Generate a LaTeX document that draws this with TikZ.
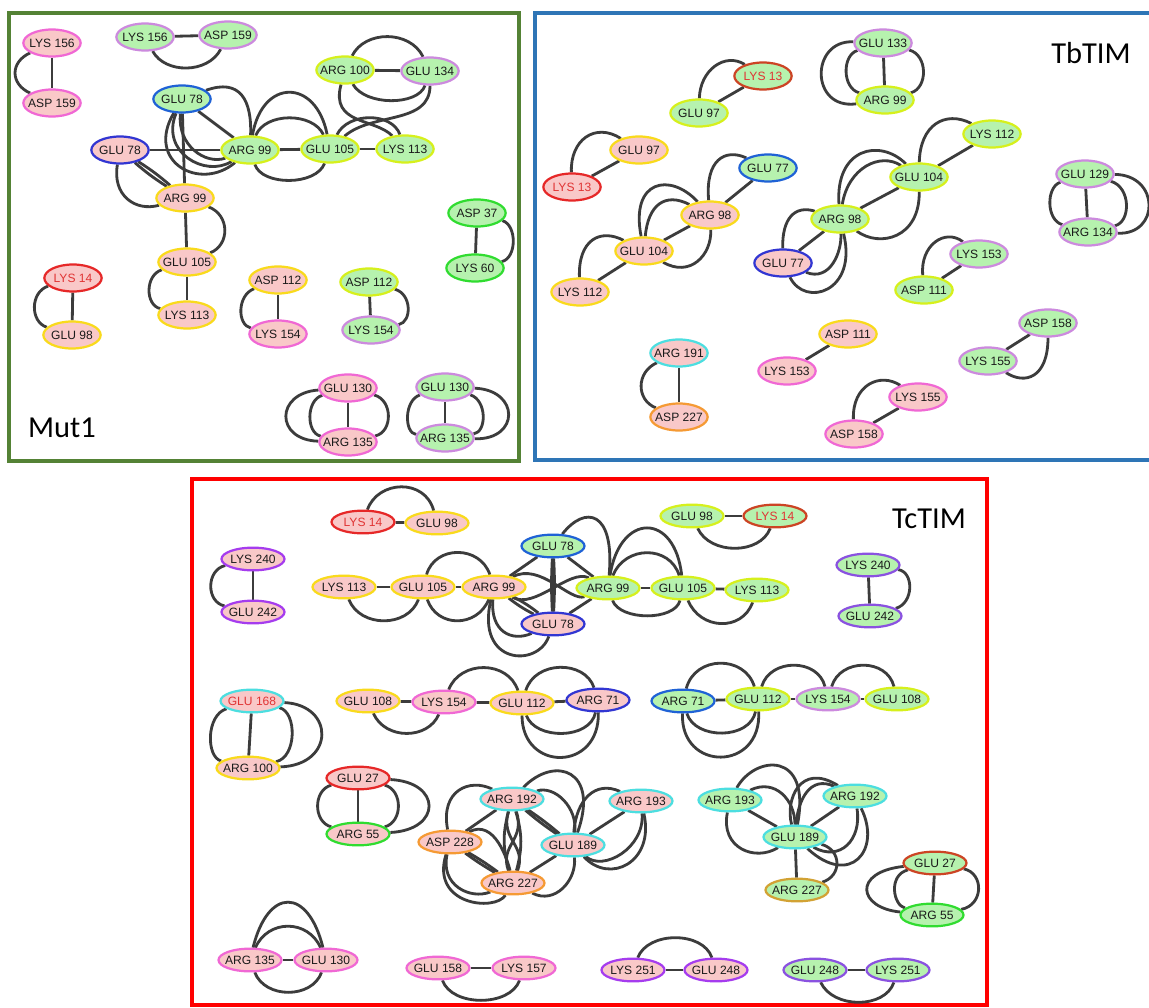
\documentclass[tikz,border=0pt]{standalone}
\usepackage{fontspec}
\setmainfont{Liberation Sans}
\newfontfamily\panelfont{Carlito}
\usetikzlibrary{shapes.geometric,backgrounds}

\definecolor{pinkfill}{HTML}{F9C8C8}
\definecolor{greenfill}{HTML}{B6F2AE}
\definecolor{ink}{HTML}{1A1A1A}
\definecolor{redtext}{HTML}{E03434}
\definecolor{bondc}{HTML}{3C3C3C}
\definecolor{cMag}{HTML}{F068D4}
\definecolor{cVio}{HTML}{CC8ADE}
\definecolor{cYel}{HTML}{F9DA1C}
\definecolor{cYG}{HTML}{D6F01C}
\definecolor{cBlue}{HTML}{1F62D6}
\definecolor{cInd}{HTML}{3236D2}
\definecolor{cRed}{HTML}{E62828}
\definecolor{cRB}{HTML}{CC4424}
\definecolor{cGrn}{HTML}{30DC30}
\definecolor{cCyan}{HTML}{4CDEE0}
\definecolor{cOrg}{HTML}{F59A34}
\definecolor{cOch}{HTML}{D2A234}
\definecolor{cPur}{HTML}{A53CEE}
\definecolor{cPur2}{HTML}{8A52E0}
\definecolor{mutframe}{HTML}{548235}
\definecolor{tbframe}{HTML}{2E75B6}
\definecolor{tcframe}{HTML}{FF0000}

\newcommand\resid[1]{\makebox[0pt]{#1}}

\tikzset{
  res/.style={ellipse, inner sep=0pt, line width=1.9pt, text=ink,
    font=\fontsize{10.3}{12}\selectfont},
  resA/.style={res, minimum width=1.72cm, minimum height=0.81cm},
  resB/.style={res, minimum width=1.89cm, minimum height=0.68cm},
  pk/.style={fill=pinkfill}, gr/.style={fill=greenfill},
  bmag/.style={draw=cMag}, bvio/.style={draw=cVio}, byel/.style={draw=cYel},
  byg/.style={draw=cYG}, bblue/.style={draw=cBlue}, bind/.style={draw=cInd},
  bred/.style={draw=cRed}, brb/.style={draw=cRB}, bgrn/.style={draw=cGrn},
  bcyan/.style={draw=cCyan}, borg/.style={draw=cOrg}, boch/.style={draw=cOch},
  bpur/.style={draw=cPur}, bpur2/.style={draw=cPur2},
  rt/.style={text=redtext},
  bond/.style={draw=bondc, line width=2.4pt},
  panel/.style={line width=2.6pt},
  paneltitle/.style={font=\panelfont\fontsize{26}{30}\selectfont, text=black}
}

\begin{document}
\begin{tikzpicture}[x=0.03cm,y=-0.03cm]
\useasboundingbox (0,0) rectangle (1149,1007);
\begin{pgfonlayer}{background}
  \fill[white] (0,0) rectangle (1149,1007);
  \draw[panel, draw=mutframe] (9,13) rectangle (519,461);
  \draw[panel, draw=tbframe] (535,13) rectangle (1156,460);
  \draw[panel, draw=tcframe] (192,479) rectangle (987,1005);
\end{pgfonlayer}

% ---------------- Mut1 ----------------
\node[paneltitle] (tmut) at (62,428) {Mut1};
\node[resA,pk,bmag] (m1) at (52,43) {\resid{LYS 156}};
\node[resA,pk,bmag] (m2) at (52,103) {\resid{ASP 159}};
\node[resA,gr,bvio] (m3) at (145,37) {\resid{LYS 156}};
\node[resA,gr,bvio] (m4) at (228,35) {\resid{ASP 159}};
\node[resA,gr,bblue] (m5) at (182,99) {\resid{GLU 78}};
\node[resA,pk,bind] (m6) at (120,150) {\resid{GLU 78}};
\node[resA,gr,byg] (m7) at (250,150) {\resid{ARG 99}};
\node[resA,pk,byel] (m8) at (185,198) {\resid{ARG 99}};
\node[resA,gr,byg] (m9) at (330,149) {\resid{GLU 105}};
\node[resA,gr,byg] (m10) at (405,149) {\resid{LYS 113}};
\node[resA,gr,byg] (m11) at (345,70) {\resid{ARG 100}};
\node[resA,gr,bvio] (m12) at (430,71) {\resid{GLU 134}};
\node[resA,gr,bgrn] (m13) at (477,213) {\resid{ASP 37}};
\node[resA,gr,bgrn] (m14) at (475,268) {\resid{LYS 60}};
\node[resA,pk,bred,rt] (m15) at (73,278) {\resid{LYS 14}};
\node[resA,pk,byel] (m16) at (72,335) {\resid{GLU 98}};
\node[resA,pk,byel] (m17) at (187,262) {\resid{GLU 105}};
\node[resA,pk,byel] (m18) at (187,315) {\resid{LYS 113}};
\node[resA,pk,byel] (m19) at (278,280) {\resid{ASP 112}};
\node[resA,pk,bmag] (m20) at (278,334) {\resid{LYS 154}};
\node[resA,gr,byg] (m21) at (369,282) {\resid{ASP 112}};
\node[resA,gr,bvio] (m22) at (371,330) {\resid{LYS 154}};
\node[resA,pk,bmag] (m23) at (348,388) {\resid{GLU 130}};
\node[resA,pk,bmag] (m24) at (348,442) {\resid{ARG 135}};
\node[resA,gr,bvio] (m25) at (445,387) {\resid{GLU 130}};
\node[resA,gr,bvio] (m26) at (445,438) {\resid{ARG 135}};

% ---------------- TbTIM ----------------
\node[paneltitle] (ttb) at (1091,53) {TbTIM};
\node[resA,gr,brb,rt] (t1) at (763,76) {\resid{LYS 13}};
\node[resA,gr,byg] (t2) at (699,113) {\resid{GLU 97}};
\node[resA,pk,byel] (t3) at (639,150) {\resid{GLU 97}};
\node[resA,pk,bred,rt] (t4) at (572,187) {\resid{LYS 13}};
\node[resA,gr,bblue] (t5) at (768,168) {\resid{GLU 77}};
\node[resA,pk,byel] (t6) at (710,215) {\resid{ARG 98}};
\node[resA,pk,byel] (t7) at (644,251) {\resid{GLU 104}};
\node[resA,pk,byel] (t8) at (580,292) {\resid{LYS 112}};
\node[resA,pk,bind] (t9) at (783,263) {\resid{GLU 77}};
\node[resA,gr,byg] (t10) at (840,219) {\resid{ARG 98}};
\node[resA,gr,byg] (t11) at (919,177) {\resid{GLU 104}};
\node[resA,gr,byg] (t12) at (992,134) {\resid{LYS 112}};
\node[resA,gr,bvio] (t13) at (883,43) {\resid{GLU 133}};
\node[resA,gr,byg] (t14) at (885,100) {\resid{ARG 99}};
\node[resA,gr,bvio] (t15) at (1085,174) {\resid{GLU 129}};
\node[resA,gr,bvio] (t16) at (1088,232) {\resid{ARG 134}};
\node[resA,gr,bvio] (t17) at (979,254) {\resid{LYS 153}};
\node[resA,gr,byg] (t18) at (924,290) {\resid{ASP 111}};
\node[resA,gr,bvio] (t19) at (1048,323) {\resid{ASP 158}};
\node[resA,gr,bvio] (t20) at (988,361) {\resid{LYS 155}};
\node[resA,pk,bcyan] (t21) at (679,353) {\resid{ARG 191}};
\node[resA,pk,borg] (t22) at (679,417) {\resid{ASP 227}};
\node[resA,pk,byel] (t23) at (848,334) {\resid{ASP 111}};
\node[resA,pk,bmag] (t24) at (787,371) {\resid{LYS 153}};
\node[resA,pk,bmag] (t25) at (918,397) {\resid{LYS 155}};
\node[resA,pk,bmag] (t26) at (854,434) {\resid{ASP 158}};

% ---------------- TcTIM ----------------
\node[paneltitle] (ttc) at (929,519) {TcTIM};
\node[resB,pk,bred,rt] (c1) at (363,522) {\resid{LYS 14}};
\node[resB,pk,byel] (c2) at (437,523) {\resid{GLU 98}};
\node[resB,pk,bpur] (c3) at (253,559) {\resid{LYS 240}};
\node[resB,pk,bpur] (c4) at (253,612) {\resid{GLU 242}};
\node[resB,pk,byel] (c5) at (344,587) {\resid{LYS 113}};
\node[resB,pk,byel] (c6) at (423,587) {\resid{GLU 105}};
\node[resB,pk,byel] (c7) at (494,587) {\resid{ARG 99}};
\node[resB,gr,bblue] (c8) at (553,546) {\resid{GLU 78}};
\node[resB,pk,bind] (c9) at (553,624) {\resid{GLU 78}};
\node[resB,gr,byg] (c10) at (608,588) {\resid{ARG 99}};
\node[resB,gr,byg] (c11) at (683,588) {\resid{GLU 105}};
\node[resB,gr,byg] (c12) at (757,590) {\resid{LYS 113}};
\node[resB,gr,byg] (c13) at (692,516) {\resid{GLU 98}};
\node[resB,gr,brb,rt] (c14) at (775,516) {\resid{LYS 14}};
\node[resB,gr,bpur2] (c15) at (868,565) {\resid{LYS 240}};
\node[resB,gr,bpur2] (c16) at (870,616) {\resid{GLU 242}};
\node[resB,pk,bcyan,rt] (c17) at (252,701) {\resid{GLU 168}};
\node[resB,pk,byel] (c18) at (248,768) {\resid{ARG 100}};
\node[resB,pk,byel] (c19) at (368,701) {\resid{GLU 108}};
\node[resB,pk,bmag] (c20) at (444,702) {\resid{LYS 154}};
\node[resB,pk,byel] (c21) at (522,703) {\resid{GLU 112}};
\node[resB,pk,bind] (c22) at (598,700) {\resid{ARG 71}};
\node[resB,gr,bblue] (c23) at (683,701) {\resid{ARG 71}};
\node[resB,gr,byg] (c24) at (758,699) {\resid{GLU 112}};
\node[resB,gr,bvio] (c25) at (828,699) {\resid{LYS 154}};
\node[resB,gr,byg] (c26) at (897,699) {\resid{GLU 108}};
\node[resB,pk,bred] (c27) at (358,778) {\resid{GLU 27}};
\node[resB,pk,bgrn] (c28) at (358,834) {\resid{ARG 55}};
\node[resB,pk,bcyan] (c29) at (512,799) {\resid{ARG 192}};
\node[resB,pk,borg] (c30) at (450,842) {\resid{ASP 228}};
\node[resB,pk,bcyan] (c31) at (573,845) {\resid{GLU 189}};
\node[resB,pk,borg] (c32) at (513,883) {\resid{ARG 227}};
\node[resB,pk,bcyan] (c33) at (641,801) {\resid{ARG 193}};
\node[resB,gr,bcyan] (c34) at (730,800) {\resid{ARG 193}};
\node[resB,gr,bcyan] (c35) at (855,796) {\resid{ARG 192}};
\node[resB,gr,bcyan] (c36) at (795,837) {\resid{GLU 189}};
\node[resB,gr,boch] (c37) at (797,890) {\resid{ARG 227}};
\node[resB,gr,brb] (c38) at (935,863) {\resid{GLU 27}};
\node[resB,gr,bgrn] (c39) at (932,915) {\resid{ARG 55}};
\node[resB,pk,bmag] (c40) at (250,960) {\resid{ARG 135}};
\node[resB,pk,bmag] (c41) at (326,960) {\resid{GLU 130}};
\node[resB,pk,bmag] (c42) at (438,968) {\resid{GLU 158}};
\node[resB,pk,bmag] (c43) at (524,968) {\resid{LYS 157}};
\node[resB,pk,bpur] (c44) at (633,970) {\resid{LYS 251}};
\node[resB,pk,bpur] (c45) at (716,970) {\resid{GLU 248}};
\node[resB,gr,bpur2] (c46) at (815,970) {\resid{GLU 248}};
\node[resB,gr,bpur2] (c47) at (898,970) {\resid{LYS 251}};

\begin{pgfonlayer}{background}
% Mut1 bonds
\draw[bond] (m1) -- (m2);
\draw[bond] (m1) .. controls (10,62) and (10,84) .. (m2);
\draw[bond] (m3) -- (m4);
\draw[bond] (m3) .. controls (165,74) and (208,74) .. (m4);
\draw[bond] (m11) -- (m12);
\draw[bond] (m11) .. controls (365,30) and (410,30) .. (m12);
\draw[bond] (m11) .. controls (365,106) and (418,106) .. (m12);
\draw[bond] (m11) .. controls (330,125) and (375,118) .. (m10);
\draw[bond] (m12) .. controls (430,125) and (372,112) .. (m9);
\draw[bond] (m9) -- (m10);
\draw[bond] (m9) .. controls (348,112) and (392,112) .. (m10);
\draw[bond] (m7) -- (m9);
\draw[bond] (m7) .. controls (262,78) and (316,78) .. (m9);
\draw[bond] (m7) .. controls (265,112) and (313,112) .. (m9);
\draw[bond] (m7) .. controls (262,186) and (316,186) .. (m9);
\draw[bond] (m5) -- (m7);
\draw[bond] (m6) -- (m7);
\draw[bond] (m5) -- (m8);
\draw[bond] (m5) .. controls (240,78) and (252,100) .. (m7);
\draw[bond] (m5) .. controls (145,162) and (200,192) .. (m7);
\draw[bond] (m5) .. controls (160,152) and (205,178) .. (m7);
\draw[bond] (m5) .. controls (177,145) and (205,165) .. (m7);
\draw[bond] (m6) to[bend left=4] (m8);
\draw[bond] (m6) to[bend right=4] (m8);
\draw[bond] (m6) .. controls (112,195) and (135,212) .. (m8);
\draw[bond] (m8) -- (m17);
\draw[bond] (m8) .. controls (230,215) and (230,245) .. (m17);
\draw[bond] (m17) -- (m18);
\draw[bond] (m17) .. controls (145,275) and (145,305) .. (m18);
\draw[bond] (m15) -- (m16);
\draw[bond] (m15) .. controls (30,292) and (30,322) .. (m16);
\draw[bond] (m19) -- (m20);
\draw[bond] (m19) .. controls (237,295) and (237,325) .. (m20);
\draw[bond] (m21) -- (m22);
\draw[bond] (m21) .. controls (412,294) and (412,322) .. (m22);
\draw[bond] (m13) -- (m14);
\draw[bond] (m13) .. controls (517,225) and (517,258) .. (m14);
\draw[bond] (m23) -- (m24);
\draw[bond] (m23) .. controls (275,393) and (275,440) .. (m24);
\draw[bond] (m23) .. controls (306,400) and (306,433) .. (m24);
\draw[bond] (m23) .. controls (393,400) and (393,432) .. (m24);
\draw[bond] (m25) -- (m26);
\draw[bond] (m25) .. controls (404,400) and (404,433) .. (m26);
\draw[bond] (m25) .. controls (487,400) and (487,432) .. (m26);
\draw[bond] (m25) .. controls (520,390) and (520,440) .. (m26);

% TbTIM bonds
\draw[bond] (t1) -- (t2);
\draw[bond] (t2) .. controls (700,70) and (725,52) .. (t1);
\draw[bond] (t3) -- (t4);
\draw[bond] (t4) .. controls (570,140) and (595,122) .. (t3);
\draw[bond] (t6) -- (t5);
\draw[bond] (t6) .. controls (705,160) and (725,148) .. (t5);
\draw[bond] (t7) -- (t8);
\draw[bond] (t8) .. controls (578,240) and (600,228) .. (t7);
\draw[bond] (t7) -- (t6);
\draw[bond] (t7) .. controls (630,180) and (670,172) .. (t6);
\draw[bond] (t7) .. controls (648,205) and (665,192) .. (t6);
\draw[bond] (t7) .. controls (690,278) and (712,255) .. (t6);
\draw[bond] (t9) -- (t10);
\draw[bond] (t9) .. controls (782,218) and (795,205) .. (t10);
\draw[bond] (t9) .. controls (830,282) and (842,252) .. (t10);
\draw[bond] (t9) .. controls (805,308) and (858,292) .. (t10);
\draw[bond] (t10) -- (t11);
\draw[bond] (t10) .. controls (835,148) and (880,138) .. (t11);
\draw[bond] (t10) .. controls (848,168) and (880,152) .. (t11);
\draw[bond] (t11) .. controls (920,238) and (880,248) .. (t10);
\draw[bond] (t11) -- (t12);
\draw[bond] (t11) .. controls (920,125) and (945,110) .. (t12);
\draw[bond] (t13) -- (t14);
\draw[bond] (t13) .. controls (842,55) and (842,88) .. (t14);
\draw[bond] (t13) .. controls (928,55) and (928,88) .. (t14);
\draw[bond] (t13) .. controls (810,40) and (810,110) .. (t14);
\draw[bond] (t15) -- (t16);
\draw[bond] (t15) .. controls (1046,187) and (1046,220) .. (t16);
\draw[bond] (t15) .. controls (1131,187) and (1131,222) .. (t16);
\draw[bond] (t15) .. controls (1160,175) and (1160,235) .. (t16);
\draw[bond] (t17) -- (t18);
\draw[bond] (t18) .. controls (920,245) and (945,228) .. (t17);
\draw[bond] (t19) -- (t20);
\draw[bond] (t19) .. controls (1048,378) and (1025,385) .. (t20);
\draw[bond] (t21) -- (t22);
\draw[bond] (t21) .. controls (636,372) and (636,400) .. (t22);
\draw[bond] (t23) -- (t24);
\draw[bond] (t25) -- (t26);
\draw[bond] (t26) .. controls (852,385) and (880,372) .. (t25);

% TcTIM bonds
\draw[bond] (c1) -- (c2);
\draw[bond] (c1) .. controls (378,480) and (425,478) .. (c2);
\draw[bond] (c3) -- (c4);
\draw[bond] (c3) .. controls (206,570) and (206,602) .. (c4);
\draw[bond] (c5) -- (c6);
\draw[bond] (c5) .. controls (360,628) and (408,628) .. (c6);
\draw[bond] (c6) -- (c7);
\draw[bond] (c6) .. controls (435,545) and (480,545) .. (c7);
\draw[bond] (c6) .. controls (437,628) and (477,628) .. (c7);
\draw[bond] (c13) -- (c14);
\draw[bond] (c13) .. controls (710,555) and (760,555) .. (c14);
\draw[bond] (c15) -- (c16);
\draw[bond] (c15) .. controls (914,572) and (914,603) .. (c16);
\draw[bond] (c11) -- (c12);
\draw[bond] (c11) .. controls (700,630) and (742,632) .. (c12);
\draw[bond] (c10) -- (c11);
\draw[bond] (c10) .. controls (620,512) and (675,512) .. (c11);
\draw[bond] (c10) .. controls (625,545) and (670,545) .. (c11);
\draw[bond] (c10) .. controls (620,621) and (675,621) .. (c11);
\draw[bond] (c7) -- (c8);
\draw[bond] (c7) to[bend left=5] (c9);
\draw[bond] (c7) to[bend right=5] (c9);
\draw[bond] (c8) to[bend left=3] (c9);
\draw[bond] (c8) to[bend right=3] (c9);
\draw[bond] (c8) -- (c10);
\draw[bond] (c9) -- (c10);
\draw[bond] (c8) .. controls (585,505) and (615,510) .. (c10);
\draw[bond] (c7) .. controls (540,562) and (570,602) .. (c10);
\draw[bond] (c7) .. controls (535,610) and (570,568) .. (c10);
\draw[bond] (c7) .. controls (490,632) and (512,642) .. (c9);
\draw[bond] (c7) .. controls (475,665) and (538,668) .. (c9);

\draw[bond] (c17) -- (c18);
\draw[bond] (c17) .. controls (206,715) and (206,757) .. (c18);
\draw[bond] (c17) .. controls (297,712) and (297,757) .. (c18);
\draw[bond] (c17) .. controls (335,705) and (335,765) .. (c18);
\draw[bond] (c19) -- (c20);
\draw[bond] (c19) .. controls (385,740) and (428,740) .. (c20);
\draw[bond] (c20) -- (c21);
\draw[bond] (c20) .. controls (460,660) and (508,660) .. (c21);
\draw[bond] (c21) -- (c22);
\draw[bond] (c21) .. controls (535,660) and (585,660) .. (c22);
\draw[bond] (c21) .. controls (535,740) and (590,740) .. (c22);
\draw[bond] (c21) .. controls (522,772) and (600,772) .. (c22);
\draw[bond] (c23) -- (c24);
\draw[bond] (c23) .. controls (695,655) and (745,655) .. (c24);
\draw[bond] (c23) .. controls (695,740) and (750,740) .. (c24);
\draw[bond] (c23) .. controls (680,772) and (762,772) .. (c24);
\draw[bond] (c24) -- (c25);
\draw[bond] (c24) .. controls (770,658) and (818,658) .. (c25);
\draw[bond] (c25) -- (c26);
\draw[bond] (c25) .. controls (840,658) and (887,658) .. (c26);
\draw[bond] (c27) -- (c28);
\draw[bond] (c27) .. controls (313,790) and (313,822) .. (c28);
\draw[bond] (c27) .. controls (403,790) and (403,822) .. (c28);
\draw[bond] (c27) .. controls (442,782) and (442,830) .. (c28);

\draw[bond] (c29) to[bend left=3] (c31);
\draw[bond] (c29) to[bend right=3] (c31);
\draw[bond] (c30) to[bend left=3] (c32);
\draw[bond] (c30) to[bend right=3] (c32);
\draw[bond] (c30) -- (c29);
\draw[bond] (c31) -- (c33);
\draw[bond] (c31) -- (c32);
\draw[bond] (c29) to[bend left=16] (c32);
\draw[bond] (c29) to[bend right=16] (c32);
\draw[bond] (c29) .. controls (500,840) and (527,845) .. (c32);
\draw[bond] (c29) .. controls (526,840) and (499,845) .. (c32);
\draw[bond] (c30) .. controls (440,790) and (470,778) .. (c29);
\draw[bond] (c30) .. controls (495,818) and (508,862) .. (c32);
\draw[bond] (c29) .. controls (555,755) and (600,770) .. (c31);
\draw[bond] (c29) .. controls (555,785) and (578,808) .. (c31);
\draw[bond] (c31) .. controls (576,800) and (595,780) .. (c33);
\draw[bond] (c31) .. controls (610,885) and (655,862) .. (c33);
\draw[bond] (c31) .. controls (603,872) and (645,848) .. (c33);
\draw[bond] (c30) .. controls (440,885) and (470,900) .. (c32);
\draw[bond] (c30) .. controls (430,905) and (495,912) .. (c32);
\draw[bond] (c32) .. controls (555,905) and (577,880) .. (c31);

\draw[bond] (c34) -- (c36);
\draw[bond] (c35) -- (c36);
\draw[bond] (c36) -- (c37);
\draw[bond] (c34) .. controls (755,755) and (812,750) .. (c36);
\draw[bond] (c34) .. controls (775,778) and (795,800) .. (c36);
\draw[bond] (c35) .. controls (810,775) and (798,800) .. (c36);
\draw[bond] (c35) .. controls (800,762) and (785,800) .. (c36);
\draw[bond] (c34) .. controls (720,848) and (755,862) .. (c36);
\draw[bond] (c35) .. controls (882,850) and (850,888) .. (c36);
\draw[bond] (c35) .. controls (862,840) and (840,862) .. (c36);
\draw[bond] (c36) .. controls (842,850) and (842,876) .. (c37);

\draw[bond] (c38) -- (c39);
\draw[bond] (c38) .. controls (852,872) and (858,908) .. (c39);
\draw[bond] (c38) .. controls (888,875) and (893,905) .. (c39);
\draw[bond] (c38) .. controls (984,873) and (984,905) .. (c39);

\draw[bond] (c40) -- (c41);
\draw[bond] (c40) .. controls (268,887) and (308,887) .. (c41);
\draw[bond] (c40) .. controls (268,919) and (308,919) .. (c41);
\draw[bond] (c40) .. controls (265,999) and (312,999) .. (c41);
\draw[bond] (c42) -- (c43);
\draw[bond] (c42) .. controls (452,1007) and (510,1007) .. (c43);
\draw[bond] (c44) -- (c45);
\draw[bond] (c44) .. controls (648,931) and (703,931) .. (c45);
\draw[bond] (c46) -- (c47);
\draw[bond] (c46) .. controls (833,1009) and (885,1009) .. (c47);
\end{pgfonlayer}
\end{tikzpicture}
\end{document}
